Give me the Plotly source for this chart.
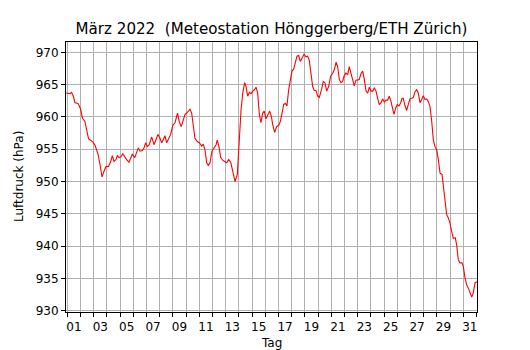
import plotly.graph_objects as go

# Time in days since 1 March 2022 00:00, pressure in hPa
tage = [-0.09, 0.21, 0.32, 0.46, 0.58, 0.81, 0.99, 1.15, 1.33, 1.49, 1.61, 1.76, 1.95, 2.10, 2.23, 2.33,
        2.48, 2.63, 2.78, 2.93, 3.11, 3.29, 3.41, 3.54, 3.69, 3.79, 3.92, 4.05, 4.20, 4.35, 4.50, 4.67,
        4.80, 4.92, 5.11, 5.26, 5.38, 5.51, 5.68, 5.81, 5.94, 6.06, 6.21,
        6.39, 6.57, 6.72, 6.87, 7.02, 7.15, 7.27, 7.40, 7.53, 7.68, 7.83, 7.99, 8.16, 8.35, 8.49, 8.63,
        8.79, 8.92, 9.05, 9.17, 9.30, 9.42, 9.55, 9.67, 9.85, 10.00, 10.18, 10.30, 10.43, 10.56, 10.68,
        10.81, 10.96, 11.11, 11.27, 11.36, 11.49, 11.62, 11.77, 11.92, 12.08, 12.23, 12.38, 12.53, 12.71,
        12.88, 13.01, 13.16, 13.29, 13.44,
        13.54, 13.67, 13.79, 13.92, 14.05, 14.17, 14.30, 14.42, 14.55, 14.67, 14.80, 14.92, 15.05, 15.21,
        15.33, 15.46, 15.56, 15.71, 15.86, 16.02, 16.14, 16.27, 16.39, 16.52, 16.64, 16.77, 16.89, 17.02,
        17.15, 17.27, 17.40, 17.53, 17.65, 17.78, 17.93, 18.08, 18.21, 18.33, 18.46, 18.59, 18.71, 18.84,
        18.97, 19.09,
        19.27, 19.39, 19.52, 19.65, 19.80, 19.95, 20.11, 20.23, 20.36, 20.48, 20.61, 20.73, 20.86, 20.98,
        21.11, 21.24, 21.36, 21.49, 21.62, 21.74, 21.87, 22.00, 22.12, 22.25, 22.38, 22.50, 22.63, 22.76,
        22.88, 23.01, 23.14, 23.26, 23.39, 23.52, 23.64, 23.77, 23.89, 24.02, 24.14, 24.27, 24.39, 24.52,
        24.65, 24.75, 24.88, 25.00, 25.13,
        25.26, 25.36, 25.45, 25.58, 25.71, 25.83, 25.96, 26.09, 26.21, 26.34, 26.47, 26.59, 26.72, 26.85,
        26.97, 27.10, 27.23, 27.35, 27.48, 27.61, 27.73, 27.86, 27.99, 28.11, 28.24, 28.39, 28.49, 28.61,
        28.74, 28.86, 28.99, 29.12, 29.24, 29.39, 29.50, 29.62, 29.75, 29.90, 30.00, 30.13, 30.26, 30.38,
        30.51, 30.64, 30.76, 30.89, 31.03]

luftdruck = [963.7, 963.6, 963.8, 963.2, 962.2, 962.1, 961.3, 959.8, 959.3, 957.6, 956.6, 956.4, 956.1,
             955.6, 954.8, 954.2, 952.6, 950.7, 951.6, 952.3, 952.3, 953.1, 954.0, 953.1, 953.4, 954.0,
             953.7, 953.8, 954.3, 953.8, 953.4, 953.0, 953.7, 954.2, 953.7, 954.4, 955.2, 954.7, 954.8,
             955.2, 956.0, 955.4, 955.7,
             956.9, 955.7, 956.5, 957.3, 956.7, 956.0, 956.5, 957.1, 956.0, 956.6, 957.3, 958.7, 959.1,
             960.6, 959.2, 958.5, 959.8, 960.4, 960.6, 960.9, 961.2, 960.6, 958.5, 956.7, 956.2, 956.0,
             955.5, 955.8, 954.9, 952.9, 952.5, 952.9, 954.7, 955.2, 955.7, 956.4, 955.4, 953.7, 953.3,
             953.1, 952.9, 953.4, 953.0, 951.6, 950.0, 951.1, 956.5, 961.0, 963.7, 965.3,
             964.7, 963.2, 963.8, 963.6, 964.0, 964.2, 964.6, 963.7, 960.4, 959.1, 960.6, 960.9, 959.7,
             960.4, 960.9, 960.1, 958.8, 957.6, 958.5, 958.7, 959.3, 960.6, 961.9, 962.1, 961.7, 964.2,
             966.0, 967.1, 967.4, 968.4, 969.4, 969.5, 968.6, 969.1, 969.7, 969.3, 969.4, 968.8, 967.1,
             964.7, 964.1, 964.1, 963.2, 963.0,
             964.3, 965.5, 965.3, 964.0, 964.7, 966.3, 966.8, 967.3, 968.5, 967.8, 965.8, 965.3, 965.5,
             966.4, 966.8, 966.5, 967.8, 966.8, 965.8, 964.8, 965.7, 965.7, 965.8, 966.7, 967.1, 965.8,
             964.0, 963.7, 964.6, 964.0, 964.0, 964.5, 964.0, 962.8, 961.9, 962.2, 962.8, 962.3, 962.6,
             962.6, 963.2, 962.4, 961.1, 960.4, 961.4, 961.9, 961.7,
             962.2, 962.9, 962.9, 961.8, 961.0, 961.9, 962.8, 962.9, 963.0, 963.9, 964.2, 963.7, 962.2,
             962.7, 963.3, 962.7, 962.8, 962.4, 961.6, 959.3, 956.5, 955.4, 954.9, 953.4, 951.3, 951.1,
             949.5, 946.9, 944.9, 944.4, 943.6, 942.3, 941.2, 941.3, 940.2, 937.9, 937.4, 937.4, 936.9,
             935.1, 934.0, 933.5, 932.8, 932.1, 932.8, 934.3, 934.5]

tag_labels = ["%02d" % d for d in range(1, 32, 2)]
tag_label_pos = [d - 0.5 for d in range(1, 32, 2)]
tag_grenzen = list(range(0, 32))
y_ticks = list(range(930, 971, 5))

FONT = "DejaVu Sans"
# page body has an 8px margin: figure is drawn at (8, 8)
W, H = 522, 342
L, R, T, B = 58, 53, 34, 38
PW, PH = W - L - R, H - T - B

fig = go.Figure()
fig.add_trace(go.Scatter(x=tage, y=luftdruck, mode="lines",
                         line=dict(color="#ff0000", width=1.1), showlegend=False))

fig.update_layout(
    width=W, height=H,
    margin=dict(l=L, r=R, t=T, b=B, autoexpand=False),
    paper_bgcolor="white", plot_bgcolor="white",
    font=dict(family=FONT, size=12, color="black"),
    title=dict(text="März 2022 \u00a0(Meteostation Hönggerberg/ETH Zürich)",
               x=0.5, xref="paper", xanchor="center",
               y=1 - 21 / H, yref="container", yanchor="middle",
               font=dict(family=FONT, size=15.1, color="black")),
    xaxis=dict(range=[-0.1, 31.04], tickmode="array", tickvals=tag_label_pos, ticktext=tag_labels,
               ticks="outside", ticklen=4, tickcolor="rgba(0,0,0,0)", showgrid=False,
               zeroline=False, showline=True, mirror=True, linecolor="black", linewidth=1,
               automargin=False,
               tickfont=dict(family=FONT, size=12, color="black"),
               minor=dict(tickmode="array", tickvals=tag_grenzen, ticks="outside", ticklen=4,
                          tickcolor="black", tickwidth=1, showgrid=True,
                          gridcolor="#b0b0b0", gridwidth=1)),
    yaxis=dict(range=[929.8, 971.6], tickmode="array", tickvals=y_ticks,
               ticks="outside", ticklen=4, tickcolor="black", tickwidth=1,
               showgrid=True, gridcolor="#b0b0b0", gridwidth=1,
               zeroline=False, showline=True, mirror=True, linecolor="black", linewidth=1,
               automargin=False,
               tickfont=dict(family=FONT, size=12, color="black")),
    annotations=[
        dict(text="Tag", xref="paper", yref="paper", x=0.5, y=-(335 - (H - B)) / PH,
             xanchor="center", yanchor="middle", showarrow=False,
             font=dict(family=FONT, size=12, color="black")),
        dict(text="Luftdruck (hPa)", xref="paper", yref="paper",
             x=-(L - 11) / PW, y=0.5,
             xanchor="center", yanchor="middle", textangle=-90, showarrow=False,
             font=dict(family=FONT, size=12, color="black")),
    ],
)

fig.write_html("out.html")
